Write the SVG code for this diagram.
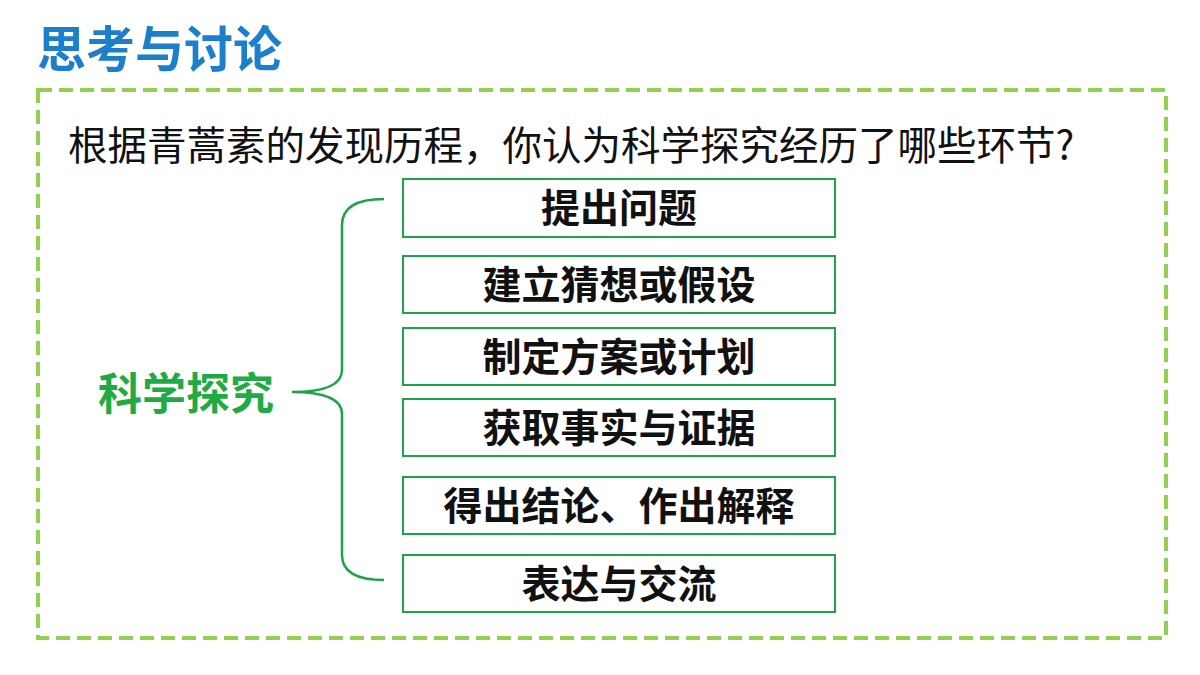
<svg xmlns="http://www.w3.org/2000/svg" width="1200" height="675" viewBox="0 0 1200 675">
<style>
.t{font-family:"Noto Sans CJK SC","Noto Sans",sans-serif;font-weight:bold;font-size:39px;fill:#111;text-anchor:middle}
.b{fill:#fff;stroke:#1fa348;stroke-width:2}
</style>
<rect width="1200" height="675" fill="#fff"/>
<text x="37" y="67" font-family="Noto Sans CJK SC,sans-serif" font-weight="bold" font-size="49" fill="#1b7fcc">思考与讨论</text>
<rect x="38" y="90" width="1128" height="548" fill="none" stroke="#92d050" stroke-width="4" stroke-dasharray="14,7"/>
<text x="68" y="160" font-family="Noto Sans CJK SC,sans-serif" font-size="39.5" fill="#111">根据青蒿素的发现历程，你认为科学探究经历了哪些环节?</text>
<g id="root"><text x="186" y="410" font-family="Noto Sans CJK SC,sans-serif" font-weight="bold" font-size="44" fill="#1fab44" text-anchor="middle">科学探究</text></g>
<g id="connectors"><path d="M384,199 Q342,199 342,225 L342,370 Q342,392 292,392 Q342,392 342,414 L342,555 Q342,580 384,580" fill="none" stroke="#1fa348" stroke-width="2.5"/></g>
<g id="n1"><rect class="b" x="403" y="179" width="432" height="58"/><text class="t" x="619" y="222">提出问题</text></g>
<g id="n2"><rect class="b" x="403" y="256" width="432" height="57"/><text class="t" x="619" y="299">建立猜想或假设</text></g>
<g id="n3"><rect class="b" x="403" y="328" width="432" height="57"/><text class="t" x="619" y="371">制定方案或计划</text></g>
<g id="n4"><rect class="b" x="403" y="399" width="432" height="57"/><text class="t" x="619" y="442">获取事实与证据</text></g>
<g id="n5"><rect class="b" x="403" y="477" width="432" height="57"/><text class="t" x="619" y="520">得出结论、作出解释</text></g>
<g id="n6"><rect class="b" x="403" y="555" width="432" height="57"/><text class="t" x="619" y="598">表达与交流</text></g>
</svg>
